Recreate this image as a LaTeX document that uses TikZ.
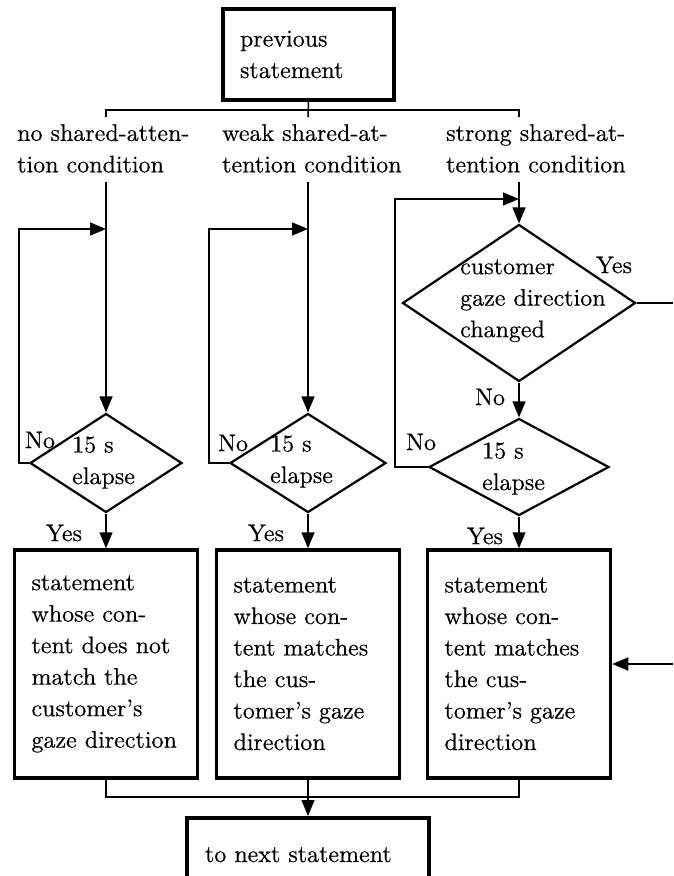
\documentclass[tikz,border=0pt]{standalone}
\usepackage{fontspec}
\setmainfont{lmroman10-regular}[Extension=.otf, FakeBold=0.4]
\usetikzlibrary{shapes.geometric,arrows.meta}
\begin{document}
\begin{tikzpicture}[x=1pt,y=-1pt,
  every node/.style={font=\fontsize{24}{31.5}\selectfont},
  txt/.style={inner sep=0pt, align=left, anchor=west,
    execute at begin node=\strut, execute at end node=\strut},
  lbl/.style={inner sep=0pt},
  box/.style={draw, line width=3.5pt, align=left, inner xsep=17pt, inner ysep=0pt,
    text width=149pt, minimum height=228pt},
  dia/.style={draw, diamond, line width=2.2pt, inner sep=0pt},
  conn/.style={line width=1.5pt},
  arr/.style={conn, -{Triangle[length=16pt,width=13pt]}},
]
\useasboundingbox (0,0) rectangle (673,876);
\clip (0,0) rectangle (673,876);

% start box
\node[draw, line width=3.5pt, align=left, inner xsep=17pt, inner ysep=0pt,
      text width=137pt, minimum height=91pt] (prev) at (308.5,54.5) {previous\\statement};

% the three conditions
\node[txt] (c1) at (17,153) {no shared-atten-\\tion condition};
\node[txt] (c2) at (222,153) {weak shared-at-\\tention condition};
\node[txt] (c3) at (446,153) {strong shared-at-\\tention condition};

% branching bus under the start box
\coordinate (t1) at (106,117);
\coordinate (t2) at (308,117);
\coordinate (t3) at (519,117);
\coordinate (b1) at (106,110);
\coordinate (b3) at (519,110);
\draw[conn] (prev.south) -- (t2);
\draw[conn] (t1) -- (b1) -- (b3) -- (t3);

% decisions
\node[dia, minimum width=152pt, minimum height=99pt] (d1) at (106,463) {};
\node[dia, minimum width=156pt, minimum height=99pt] (d2) at (308,463) {};
\node[dia, minimum width=233pt, minimum height=157pt] (g3) at (519,303) {};
\node[dia, minimum width=180pt, minimum height=97pt] (d3) at (519,467) {};

\node[txt] (e1) at (72,465) {15 s\\elapse};
\node[txt] (e2) at (270,464) {15 s\\elapse};
\node[txt] (e3) at (482,471) {15 s\\elapse};
\node[txt] (q3) at (460,303) {customer\\gaze direction\\changed};

% branch labels
\node[lbl] (n1) at (40,440) {No};
\node[lbl] (n2) at (233,443) {No};
\node[lbl] (n3) at (421,442) {No};
\node[lbl] (n4) at (490,397) {No};
\node[lbl] (y4) at (614,265) {Yes};
\node[lbl] (y1) at (64,533) {Yes};
\node[lbl] (y2) at (266,533) {Yes};
\node[lbl] (y3) at (485,536) {Yes};

% statements
\node[box] (s1) at (106,664) {statement\\whose con-\\tent does not\\match the\\customer's\\gaze direction};
\node[box] (s2) at (308,664) {statement\\whose con-\\tent matches\\the cus-\\tomer's gaze\\direction};
\node[box] (s3) at (519,664) {statement\\whose con-\\tent matches\\the cus-\\tomer's gaze\\direction};

\node[draw, line width=3.5pt, align=left, inner xsep=18pt, inner ysep=0pt,
      text width=206pt, minimum height=74pt, anchor=north] (nx) at (308,816) {to next statement};

% main flow
\draw[arr] (c1.south -| d1.north) -- (d1.north);
\draw[arr] (c2.south -| d2.north) -- (d2.north);
\draw[arr] (c3.south -| g3.north) -- (g3.north);
\draw[arr] (g3.south) -- (d3.north);
\draw[arr] (d1.south) -- (s1.north);
\draw[arr] (d2.south) -- (s2.north);
\draw[arr] (d3.south) -- (s3.north);

% waiting loops
\coordinate (j1) at (106,229); \coordinate (k1) at (19,229);
\coordinate (j2) at (308,229); \coordinate (k2) at (209,229);
\coordinate (j3) at (519,199); \coordinate (k3) at (395,199);
\draw[arr] (d1.west) -| (k1) -- (j1);
\draw[arr] (d2.west) -| (k2) -- (j2);
\draw[arr] (d3.west) -| (k3) -- (j3);

% gaze change leads straight to the matching statement
\coordinate (r1) at (673,303);
\coordinate (r2) at (673,664);
\draw[conn] (g3.east) -- (r1);
\draw[arr] (r2) -- (s3.east);

% merge into the next statement
\coordinate (m1) at (106,797);
\coordinate (m3) at (519,797);
\draw[conn] (s1.south) -- (m1) -- (m3) -- (s3.south);
\draw[arr] (s2.south) -- (nx.north);
\end{tikzpicture}
\end{document}
